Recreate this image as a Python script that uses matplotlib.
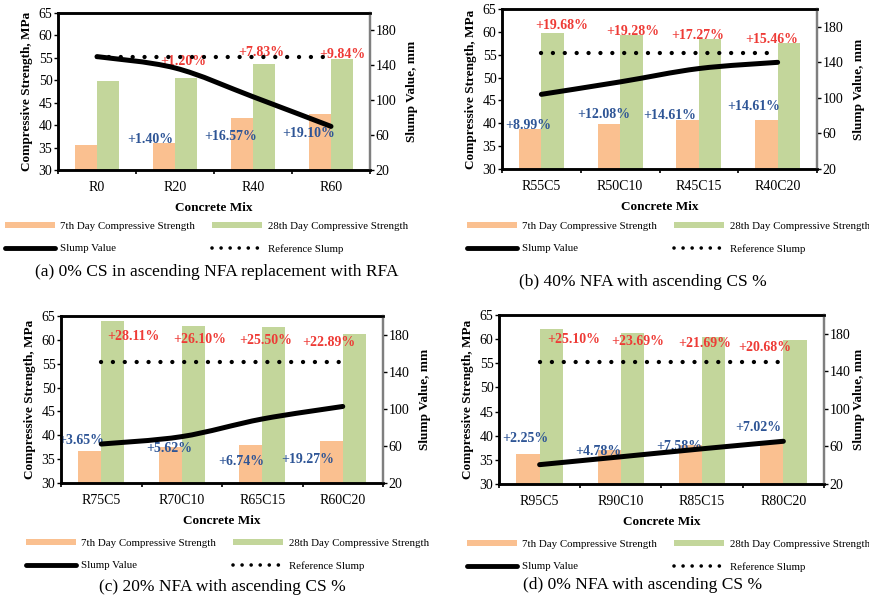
import matplotlib
matplotlib.use("Agg")
import matplotlib.pyplot as plt
import numpy as np
from matplotlib.patches import Patch, PathPatch
from matplotlib.lines import Line2D
from matplotlib.path import Path

plt.rcParams['font.family'] = ['Liberation Serif', 'DejaVu Serif']

# ---- data -------------------------------------------------------------
mixes_a = ['R0', 'R20', 'R40', 'R60']
day7_a = [35.6, 36.1, 41.6, 42.5]
day28_a = [49.9, 50.4, 53.7, 54.7]
slump_a = [150, 137, 104, 70]
gain7_a = ['', '+1.40%', '+16.57%', '+19.10%']
gain28_a = ['', '+1.20%', '+7.83%', '+9.84%']

mixes_b = ['R55C5', 'R50C10', 'R45C15', 'R40C20']
day7_b = [38.7, 39.9, 40.8, 40.8]
day28_b = [59.7, 59.3, 58.4, 57.6]
slump_b = [104, 118, 133, 140]
gain7_b = ['+8.99%', '+12.08%', '+14.61%', '+14.61%']
gain28_b = ['+19.68%', '+19.28%', '+17.27%', '+15.46%']

mixes_c = ['R75C5', 'R70C10', 'R65C15', 'R60C20']
day7_c = [36.8, 37.5, 38.0, 38.9]
day28_c = [64.0, 62.9, 62.6, 61.2]
slump_c = [62, 70, 89, 102.5]
gain7_c = ['+3.65%', '+5.62%', '+6.74%', '+19.27%']
gain28_c = ['+28.11%', '+26.10%', '+25.50%', '+22.89%']

mixes_d = ['R95C5', 'R90C10', 'R85C15', 'R80C20']
day7_d = [36.2, 37.1, 38.0, 38.5]
day28_d = [62.1, 61.3, 60.4, 59.9]
slump_d = [40.6, 49, 57.5, 65.5]
gain7_d = ['+2.25%', '+4.78%', '+7.58%', '+7.02%']
gain28_d = ['+25.10%', '+23.69%', '+21.69%', '+20.68%']

ref_slump = 150

captions = ['(a) 0% CS in ascending NFA replacement with RFA',
            '(b) 40% NFA with ascending CS %',
            '(c) 20% NFA with ascending CS %',
            '(d) 0% NFA with ascending CS %']

# ---- layout (pixel positions in an 870x601 canvas) --------------------
W, H = 870, 601
axes_px = [(58, 13, 370, 170), (502, 9, 817, 169),
           (61, 316, 383, 483), (499, 315, 824, 484)]
legend_px = [(5, 222), (467, 222), (26, 539), (467, 540)]
caption_px = [(217, 272), (643, 282), (222, 587), (643, 585)]
right_pad = [7, 7, 7, 2]

# label anchors (x in category units, y in MPa)
blue_xy = [[None, (0.68, 36.7), (1.71, 37.4), (2.71, 38.2)],
           [(-0.17, 39.5), (0.79, 41.9), (1.63, 41.7), (2.69, 43.6)],
           [(-0.25, 38.9), (0.84, 37.3), (1.74, 34.5), (2.57, 35.0)],
           [(-0.18, 39.5), (0.72, 36.8), (1.72, 37.8), (2.69, 41.8)]]
red_xy = [[None, (1.10, 54.2), (2.11, 56.2), (3.15, 55.7)],
          [(0.26, 61.4), (1.16, 60.0), (1.98, 59.2), (2.92, 58.3)],
          [(0.40, 60.7), (1.22, 60.1), (2.04, 59.8), (2.83, 59.4)],
          [(0.42, 59.9), (1.21, 59.5), (2.03, 59.2), (2.77, 58.2)]]

ORANGE = '#FAC090'
GREEN = '#C3D69B'
BLUE = '#2E5596'
RED = '#EE3B36'


def smooth_path(x, y):
    # Excel-style smoothed line: cubic Bezier segments through every point
    x = np.asarray(x, float)
    y = np.asarray(y, float)
    px = np.concatenate([[x[0]], x, [x[-1]]])
    py = np.concatenate([[y[0]], y, [y[-1]]])
    verts = [(x[0], y[0])]
    codes = [Path.MOVETO]
    for i in range(1, len(x)):
        c1 = (px[i] + (px[i + 1] - px[i - 1]) / 6, py[i] + (py[i + 1] - py[i - 1]) / 6)
        c2 = (px[i + 1] - (px[i + 2] - px[i]) / 6, py[i + 1] - (py[i + 2] - py[i]) / 6)
        verts += [c1, c2, (x[i], y[i])]
        codes += [Path.CURVE4] * 3
    return Path(verts, codes)


def panel(fig, k, mixes, day7, day28, slump, gain7, gain28):
    l, t, r, b = axes_px[k]
    ax = fig.add_axes([l / W, 1 - b / H, (r - l) / W, (b - t) / H])
    x = np.arange(len(mixes))
    w = 0.285
    ax.bar(x - w / 2, day7, w, color=ORANGE, zorder=2)
    ax.bar(x + w / 2, day28, w, color=GREEN, zorder=2)
    ax.set_xlim(-0.5, len(mixes) - 0.5)
    ax.set_ylim(30, 65)
    ax.set_yticks(range(30, 66, 5))
    ax.set_xticks(x)
    ax.set_xticklabels(mixes, fontsize=10)
    ax.set_xticks(np.arange(-0.5, len(mixes), 1), minor=True)
    ax.tick_params(axis='x', which='major', length=0, pad=8)
    ax.tick_params(axis='x', which='minor', length=3, width=1.2, direction='out')
    ax.tick_params(axis='y', labelsize=10, length=3, width=1, pad=1)
    ax.set_xlabel('Concrete Mix', fontsize=9.5, fontweight='bold', labelpad=6)
    ax.set_ylabel('Compressive Strength, MPa', fontsize=9.5, fontweight='bold', labelpad=4)

    for i, s in enumerate(gain7):
        if s:
            ax.text(*blue_xy[k][i], s, color=BLUE, fontsize=10, fontweight='bold',
                    ha='center', va='center', zorder=3)
    for i, s in enumerate(gain28):
        if s:
            ax.text(*red_xy[k][i], s, color=RED, fontsize=10, fontweight='bold',
                    ha='center', va='center', zorder=3)

    ax2 = ax.twinx()
    ax2.set_ylim(20, 200)
    ax2.set_yticks(range(20, 181, 40))
    ax2.tick_params(axis='y', labelsize=10, length=3, width=1, pad=1)
    ax2.set_ylabel('Slump Value, mm', fontsize=9.5, fontweight='bold', labelpad=right_pad[k])
    ax2.add_patch(PathPatch(smooth_path(x, slump), fill=False, lw=3.6,
                            edgecolor='black', capstyle='round'))
    ax2.plot(x, [ref_slump] * len(x), color='black', lw=3.1,
             linestyle=(0, (0.01, 2.75)), dash_capstyle='round')

    for a in (ax, ax2):
        for side in ('top', 'left', 'bottom'):
            a.spines[side].set_linewidth(1.8)
            a.spines[side].set_color('black')
        a.spines['right'].set_linewidth(1.6)
        a.spines['right'].set_color('#7f7f7f')

    handles = [Patch(facecolor=ORANGE, edgecolor='none'),
               Line2D([], [], color='black', lw=3.5, solid_capstyle='round'),
               Patch(facecolor=GREEN, edgecolor='none'),
               Line2D([], [], color='black', lw=2.6, linestyle=(0, (0.01, 2.5)),
                      dash_capstyle='round')]
    labels = ['7th Day Compressive Strength', 'Slump Value',
              '28th Day Compressive Strength', 'Reference Slump']
    lx, ly = legend_px[k]
    fig.legend(handles, labels, loc='upper left', bbox_to_anchor=(lx / W, 1 - ly / H),
               ncol=2, frameon=False, fontsize=7.8, handlelength=4.6, handleheight=0.5,
               handletextpad=0.5, columnspacing=1.6, labelspacing=1.2,
               borderpad=0, borderaxespad=0)
    cx, cy = caption_px[k]
    fig.text(cx / W, 1 - cy / H, captions[k], fontsize=12.5, ha='center', va='center')


fig = plt.figure(figsize=(8.7, 6.01), dpi=100)
panel(fig, 0, mixes_a, day7_a, day28_a, slump_a, gain7_a, gain28_a)
panel(fig, 1, mixes_b, day7_b, day28_b, slump_b, gain7_b, gain28_b)
panel(fig, 2, mixes_c, day7_c, day28_c, slump_c, gain7_c, gain28_c)
panel(fig, 3, mixes_d, day7_d, day28_d, slump_d, gain7_d, gain28_d)
fig.savefig('out.png', dpi=100)
